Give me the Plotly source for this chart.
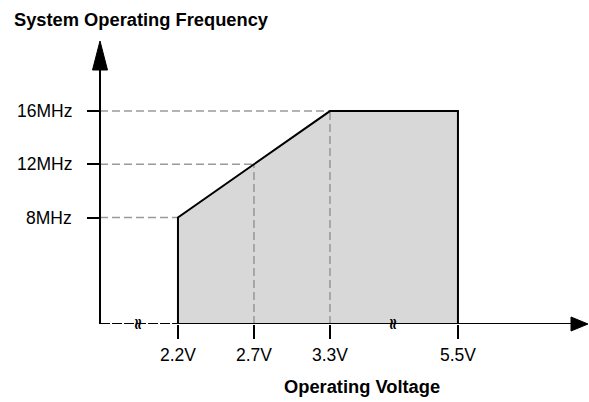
import plotly.graph_objects as go

# ---------------- data ----------------
voltages = [2.2, 2.7, 3.3, 5.5]          # operating voltage (V)
max_freq_mhz = [8, 12, 16, 16]           # max system frequency (MHz)
freq_ticks = [8, 12, 16]                 # labelled frequency ticks
x_tick_labels = [f"{v}V" for v in voltages]
y_tick_labels = [f"{f}MHz" for f in freq_ticks]
x_title = "Operating Voltage"
y_title = "System Operating Frequency"

# ---------------- layout constants ----------------
W, H = 589, 402
L, R, T, B = 100, 2, 42, 78
PW, PH = W - L - R, H - T - B
BREAK_AFTER = 3.3      # axis is broken between 3.3V and 5.5V (schematic)
BREAK_GAP = 0.684      # extra spacing after the break (in slot units)
X_RANGE = [-1.026, 5.382]
Y_RANGE = [0, 21.19]

FONT = "Liberation Sans, Arial, sans-serif"
GUIDE = dict(color="#9a9a9a", width=1.6, dash="8px,4px")
EDGE = dict(color="black", width=2)
TICK_FONT = dict(family=FONT, size=17.5, color="black")

# schematic x positions for the broken axis
pos = [i + (BREAK_GAP if v > BREAK_AFTER else 0) for i, v in enumerate(voltages)]


def paper_x(px):
    return (px - L) / PW


def paper_y(py):
    return (H - B - py) / PH


fig = go.Figure()

# shaded operating region
fig.add_trace(go.Scatter(
    x=[pos[0]] + pos + [pos[-1]],
    y=[0] + max_freq_mhz + [0],
    fill="toself", fillcolor="#d8d8d8", mode="none",
    hoverinfo="skip", showlegend=False))

# dashed guide lines
seen = set()
for i, (p, f) in enumerate(zip(pos, max_freq_mhz)):
    if f in freq_ticks and f not in seen:
        seen.add(f)
        fig.add_trace(go.Scatter(x=[X_RANGE[0], p], y=[f, f], mode="lines",
                                 line=GUIDE, hoverinfo="skip", showlegend=False))
    if 0 < i < len(pos) - 1:
        fig.add_trace(go.Scatter(x=[p, p], y=[0, f], mode="lines",
                                 line=GUIDE, hoverinfo="skip", showlegend=False))

# region outline
fig.add_trace(go.Scatter(
    x=[pos[0]] + pos + [pos[-1]],
    y=[0] + max_freq_mhz + [0],
    mode="lines", line=EDGE, hoverinfo="skip", showlegend=False))

shapes = []
# y axis line
shapes.append(dict(type="line", xref="paper", yref="paper",
                   x0=0, x1=0, y0=0, y1=paper_y(66), line=EDGE, layer="above"))
# x axis: dashed segment before first tick, then solid
shapes.append(dict(type="line", xref="paper", yref="y",
                   x0=0, x1=paper_x(178), y0=0, y1=0,
                   line=dict(color="black", width=2, dash="10px,2px"), layer="above"))
shapes.append(dict(type="line", xref="x", yref="y",
                   x0=pos[0], x1=X_RANGE[1] - 0.2, y0=0, y1=0,
                   line=EDGE, layer="above"))
# arrow heads
hw = 7.5 / PW
shapes.append(dict(type="path", xref="paper", yref="paper",
                   path=f"M {-hw},{paper_y(70)} L 0,{paper_y(41)} L {hw},{paper_y(70)} Z",
                   fillcolor="black", line=dict(color="black", width=1), layer="above"))
hh = 7 / PH
shapes.append(dict(type="path", xref="paper", yref="paper",
                   path=f"M {paper_x(571)},{hh} L {paper_x(588)},0 L {paper_x(571)},{-hh} Z",
                   fillcolor="black", line=dict(color="black", width=1), layer="above"))

annotations = []
# axis break marks
for bx in [(X_RANGE[0] + pos[0]) / 2, (pos[2] + pos[3]) / 2]:
    annotations.append(dict(x=bx, y=0, xref="x", yref="y", text="<b>≈</b>", showarrow=False,
                            textangle=90, font=dict(family="DejaVu Sans", size=16, color="black")))
# tick labels
for p, lab in zip(pos, x_tick_labels):
    annotations.append(dict(x=p, y=paper_y(355), xref="x", yref="paper", text=lab,
                            showarrow=False, xanchor="center", yanchor="middle", font=TICK_FONT))
for f, lab in zip(freq_ticks, y_tick_labels):
    annotations.append(dict(x=paper_x(74), y=f, xref="paper", yref="y", text=lab,
                            showarrow=False, xanchor="right", yanchor="middle", font=TICK_FONT))
# titles
annotations.append(dict(x=paper_x(12), y=paper_y(19), xref="paper", yref="paper",
                        text=f"<b>{y_title}</b>", showarrow=False, xanchor="left", yanchor="middle",
                        font=dict(family=FONT, size=18.3, color="black")))
annotations.append(dict(x=paper_x(362), y=paper_y(386), xref="paper", yref="paper",
                        text=f"<b>{x_title}</b>", showarrow=False, xanchor="center", yanchor="middle",
                        font=dict(family=FONT, size=18.3, color="black")))

fig.update_layout(
    width=W, height=H,
    margin=dict(l=L, r=R, t=T, b=B),
    paper_bgcolor="white", plot_bgcolor="white",
    shapes=shapes, annotations=annotations,
    showlegend=False,
    font=dict(family=FONT, size=17.5, color="black"),
)
fig.update_xaxes(range=X_RANGE, tickvals=pos, showticklabels=False,
                 ticks="outside", ticklen=14, tickwidth=2, tickcolor="black",
                 showgrid=False, zeroline=False, showline=False, fixedrange=True)
fig.update_yaxes(range=Y_RANGE, tickvals=freq_ticks, showticklabels=False,
                 ticks="outside", ticklen=12, tickwidth=2, tickcolor="black",
                 showgrid=False, zeroline=False, showline=False, fixedrange=True)

fig.write_html("out.html", config={"displayModeBar": False},
               post_script="document.body.style.margin='0';document.body.style.padding='0';")
